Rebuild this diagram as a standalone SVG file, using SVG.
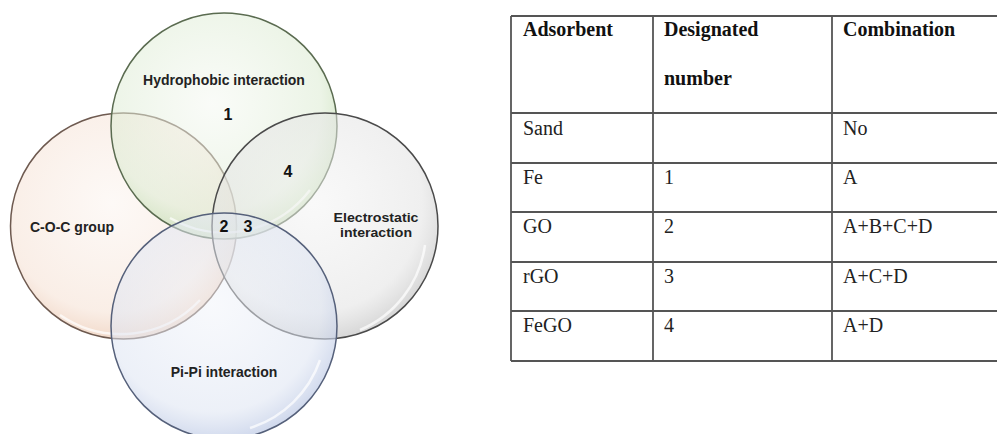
<svg xmlns="http://www.w3.org/2000/svg" width="997" height="434" viewBox="0 0 997 434">
<defs>
<radialGradient id="gG" cx="0.45" cy="0.4" r="0.6">
<stop offset="0" stop-color="#f4f8f1" stop-opacity="0.5"/>
<stop offset="0.8" stop-color="#dcebd2" stop-opacity="0.55"/>
<stop offset="1" stop-color="#c2dcb0" stop-opacity="0.7"/>
</radialGradient>
<radialGradient id="gO" cx="0.45" cy="0.4" r="0.6">
<stop offset="0" stop-color="#fbf3ee" stop-opacity="0.5"/>
<stop offset="0.8" stop-color="#f5e0d2" stop-opacity="0.55"/>
<stop offset="1" stop-color="#ecc9b2" stop-opacity="0.7"/>
</radialGradient>
<radialGradient id="gE" cx="0.45" cy="0.4" r="0.6">
<stop offset="0" stop-color="#f3f3f3" stop-opacity="0.5"/>
<stop offset="0.8" stop-color="#e2e2e2" stop-opacity="0.55"/>
<stop offset="1" stop-color="#c8c8c8" stop-opacity="0.7"/>
</radialGradient>
<radialGradient id="gB" cx="0.45" cy="0.4" r="0.6">
<stop offset="0" stop-color="#f1f4fa" stop-opacity="0.5"/>
<stop offset="0.8" stop-color="#dde4f2" stop-opacity="0.55"/>
<stop offset="1" stop-color="#bfcbe6" stop-opacity="0.7"/>
</radialGradient>
</defs>
<style>
.lbl{font-family:"Liberation Sans",Arial,sans-serif;font-weight:bold;font-size:14px;fill:#222;text-anchor:middle}
.lbs{font-family:"Liberation Sans",Arial,sans-serif;font-weight:bold;font-size:13px;fill:#222;text-anchor:middle}
.num{font-family:"Liberation Sans",Arial,sans-serif;font-weight:bold;font-size:16px;fill:#111;text-anchor:middle}
.hl{fill:none;stroke:#ffffff;stroke-width:2.5;stroke-opacity:0.7}
.th{font-family:"Liberation Serif","Times New Roman",serif;font-weight:bold;font-size:20px;fill:#111}
.td{font-family:"Liberation Serif","Times New Roman",serif;font-size:20px;fill:#222}
.tl{stroke:#555;stroke-width:1.8}
</style>
<rect width="997" height="434" fill="#ffffff"/>
<g id="venn">
<g id="circle-coc">
<circle cx="123.5" cy="226" r="113" fill="url(#gO)" stroke="#6e5a50" stroke-width="1.5"/>
<path class="hl" d="M 200 300 A 108 108 0 0 1 60 315"/>
</g>
<g id="circle-hydrophobic">
<circle cx="224" cy="126" r="113" fill="url(#gG)" stroke="#5a6b50" stroke-width="1.5"/>
<path class="hl" d="M 310 190 A 108 108 0 0 1 170 218"/>
</g>
<g id="circle-electrostatic">
<circle cx="325" cy="226" r="113" fill="url(#gE)" stroke="#4a4a4a" stroke-width="1.5"/>
<path class="hl" d="M 425 245 A 108 108 0 0 1 360 330"/>
</g>
<g id="circle-pipi">
<circle cx="224" cy="326" r="113" fill="url(#gB)" stroke="#55607a" stroke-width="1.5"/>
<path class="hl" d="M 320 360 A 108 108 0 0 1 250 428"/>
</g>
<text class="lbl" x="224" y="85">Hydrophobic interaction</text>
<text class="lbl" x="72" y="232">C-O-C group</text>
<text class="lbs" x="376" y="222" textLength="85" lengthAdjust="spacingAndGlyphs">Electrostatic</text>
<text class="lbs" x="376" y="237" textLength="72" lengthAdjust="spacingAndGlyphs">interaction</text>
<text class="lbl" x="224" y="377">Pi-Pi interaction</text>
<text class="num" x="228" y="120">1</text>
<text class="num" x="288" y="177">4</text>
<text class="num" x="224" y="232">2</text>
<text class="num" x="248" y="232">3</text>
</g>
<g id="table">
<line class="tl" x1="511" y1="16" x2="997" y2="16"/>
<line class="tl" x1="511" y1="113" x2="997" y2="113"/>
<line class="tl" x1="511" y1="163" x2="997" y2="163"/>
<line class="tl" x1="511" y1="212" x2="997" y2="212"/>
<line class="tl" x1="511" y1="262" x2="997" y2="262"/>
<line class="tl" x1="511" y1="311" x2="997" y2="311"/>
<line class="tl" x1="511" y1="361" x2="997" y2="361"/>
<line class="tl" x1="511" y1="16" x2="511" y2="361"/>
<line class="tl" x1="653" y1="16" x2="653" y2="361"/>
<line class="tl" x1="832" y1="16" x2="832" y2="361"/>
<text class="th" x="523" y="36">Adsorbent</text>
<text class="th" x="664" y="36">Designated</text>
<text class="th" x="664" y="85">number</text>
<text class="th" x="843" y="36">Combination</text>
<text class="td" x="523" y="135">Sand</text>
<text class="td" x="843" y="135">No</text>
<text class="td" x="523" y="184">Fe</text>
<text class="td" x="664" y="184">1</text>
<text class="td" x="843" y="184">A</text>
<text class="td" x="523" y="233">GO</text>
<text class="td" x="664" y="233">2</text>
<text class="td" x="843" y="233">A+B+C+D</text>
<text class="td" x="523" y="283">rGO</text>
<text class="td" x="664" y="283">3</text>
<text class="td" x="843" y="283">A+C+D</text>
<text class="td" x="523" y="332">FeGO</text>
<text class="td" x="664" y="332">4</text>
<text class="td" x="843" y="332">A+D</text>
</g>
</svg>
